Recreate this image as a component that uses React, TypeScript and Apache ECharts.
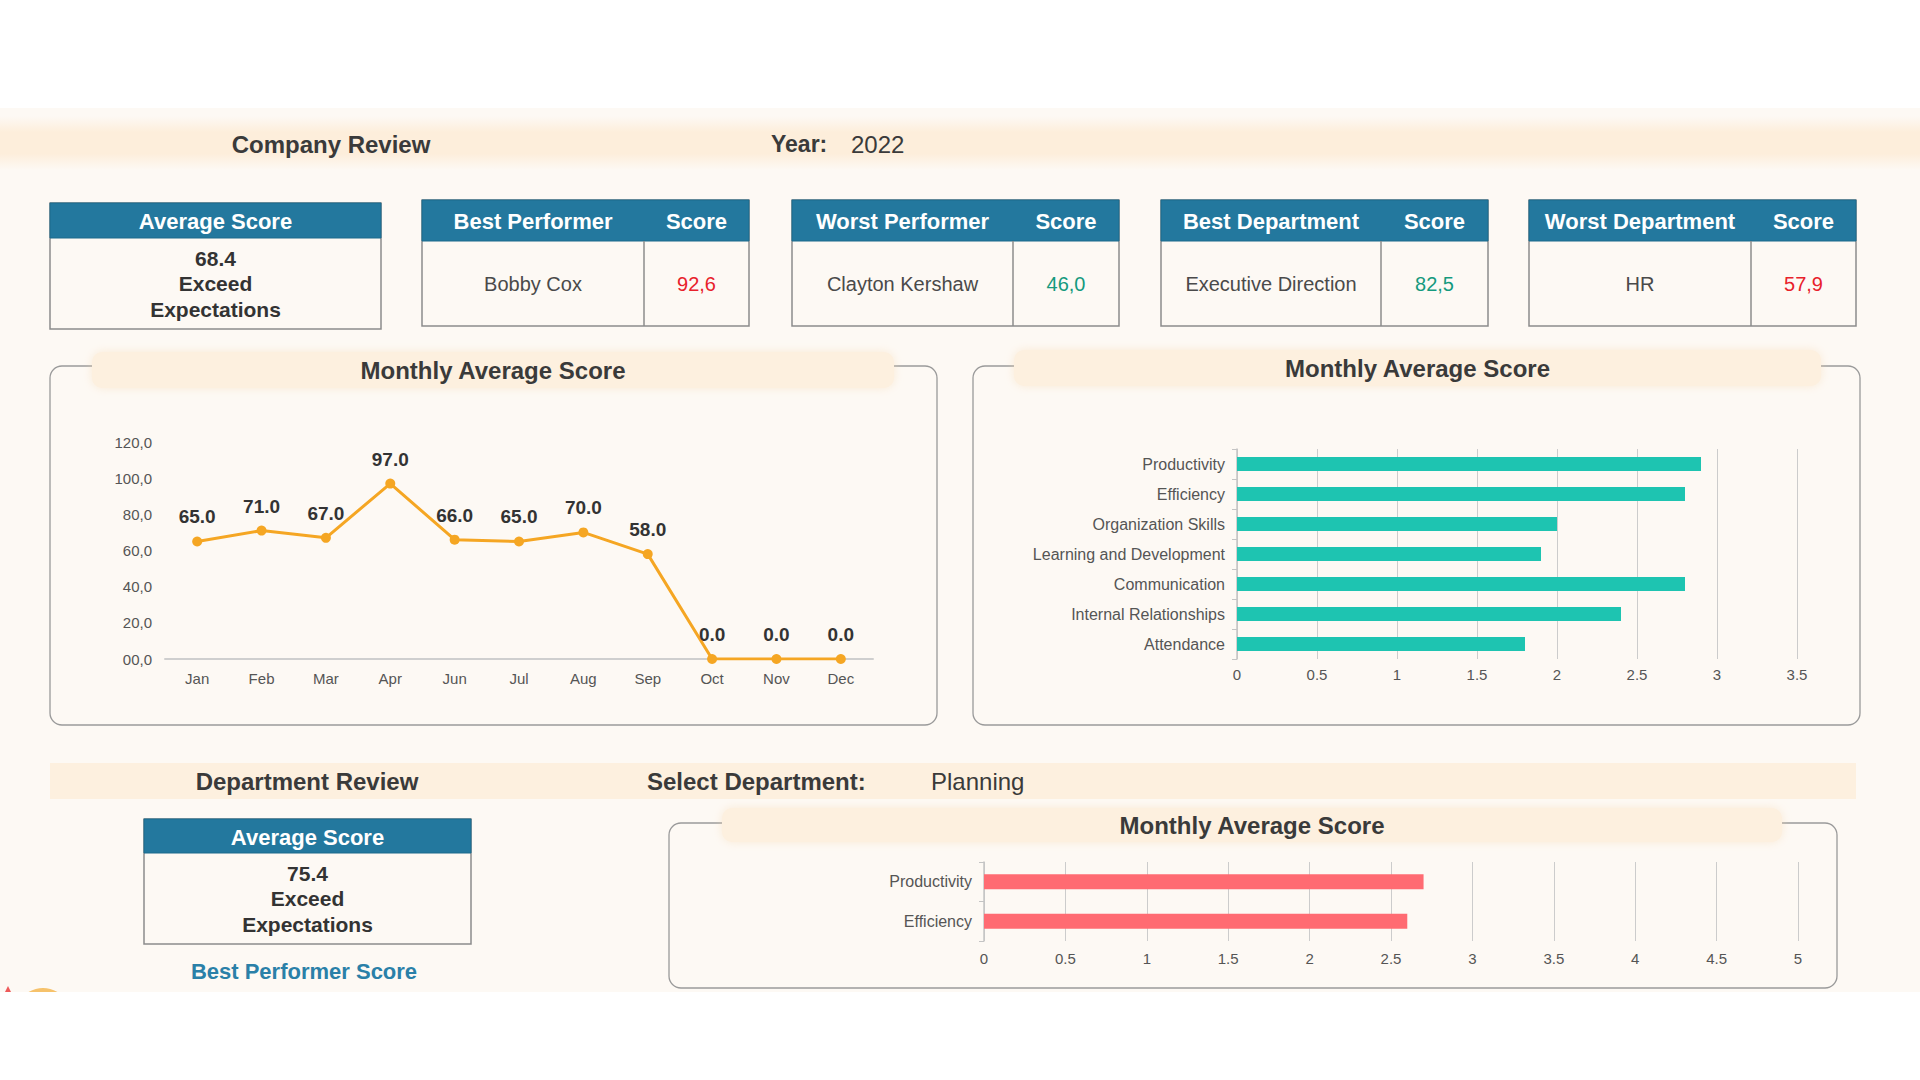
import React, { useEffect, useRef } from "react";
import * as echarts from "echarts";

// ---------- data ----------
const months = ["Jan", "Feb", "Mar", "Apr", "Jun", "Jul", "Aug", "Sep", "Oct", "Nov", "Dec"];
const monthlyScores = [65, 71, 67, 97, 66, 65, 70, 58, 0, 0, 0];

const skillCategories = [
  "Productivity",
  "Efficiency",
  "Organization Skills",
  "Learning and Development",
  "Communication",
  "Internal Relationships",
  "Attendance",
];
const skillScores = [2.9, 2.8, 2.0, 1.9, 2.8, 2.4, 1.8];

const deptCategories = ["Productivity", "Efficiency"];
const deptScores = [2.7, 2.6];

const companyYear = "2022";
const companyAverage = "68.4";
const companyRating = ["Exceed", "Expectations"];
const cardTitles = ["Best Performer", "Worst Performer", "Best Department", "Worst Department"];
const cardNames = ["Bobby Cox", "Clayton Kershaw", "Executive Direction", "HR"];
const cardScores = ["92,6", "46,0", "82,5", "57,9"];
const cardScoreGood = [false, true, true, false];

const selectedDepartment = "Planning";
const deptAverage = "75.4";
const deptRating = ["Exceed", "Expectations"];

// ---------- helpers ----------
const FONT = "'Liberation Sans', Arial, Helvetica, sans-serif";
const BG = "#fdf9f4";
const HEAD = "#23789e";
const BORDER = "#8c8c8c";

function txt(x: number, y: number, text: string, size: number, color: string, weight = "normal", align = "center") {
  return {
    type: "text",
    x,
    y,
    style: {
      text,
      fill: color,
      font: `${weight} ${size}px ${FONT}`,
      textAlign: align,
      textVerticalAlign: "middle",
      align,
      verticalAlign: "middle",
    },
  };
}

function avgCard(x: number, y: number, w: number, h: number, hh: number, value: string, rating: string[]) {
  const els: any[] = [];
  els.push({ type: "rect", shape: { x, y, width: w, height: h }, style: { fill: BG, stroke: BORDER, lineWidth: 1.5 } });
  els.push({ type: "rect", shape: { x, y, width: w, height: hh }, style: { fill: HEAD, stroke: "#1d6a8c", lineWidth: 1 } });
  els.push(txt(x + w / 2, y + hh / 2 + 1, "Average Score", 22, "#ffffff", "bold"));
  const bodyTop = y + hh;
  const lines = [value, ...rating];
  const step = 25.5;
  const mid = bodyTop + (h - hh) / 2;
  lines.forEach((l, i) => {
    els.push(txt(x + w / 2, mid + (i - 1) * step, l, 21, "#333333", "bold"));
  });
  return els;
}

function tableCard(x: number, y: number, w: number, h: number, hh: number, split: number, title: string, name: string, score: string, good: boolean) {
  const els: any[] = [];
  els.push({ type: "rect", shape: { x, y, width: w, height: h }, style: { fill: BG, stroke: BORDER, lineWidth: 1.5 } });
  els.push({ type: "rect", shape: { x, y, width: w, height: hh }, style: { fill: HEAD, stroke: "#1d6a8c", lineWidth: 1 } });
  els.push({ type: "line", shape: { x1: split, y1: y + hh, x2: split, y2: y + h }, style: { stroke: BORDER, lineWidth: 1.5 } });
  els.push(txt((x + split) / 2, y + hh / 2 + 1, title, 22, "#ffffff", "bold"));
  els.push(txt((split + x + w) / 2, y + hh / 2 + 1, "Score", 22, "#ffffff", "bold"));
  const my = y + hh + (h - hh) / 2;
  els.push(txt((x + split) / 2, my, name, 20, "#4a4a4a"));
  els.push(txt((split + x + w) / 2, my, score, 20, good ? "#159a7e" : "#e8212b"));
  return els;
}

function panel(x: number, y: number, w: number, h: number, bx: number, by: number, bw: number, bh: number, title: string) {
  return [
    { type: "rect", shape: { x, y, width: w, height: h, r: 12 }, style: { fill: BG, stroke: "#9a9a9a", lineWidth: 1.3 } },
    {
      type: "rect",
      shape: { x: bx, y: by, width: bw, height: bh, r: 10 },
      style: { fill: "#fdf0df", shadowBlur: 10, shadowColor: "rgba(245,215,175,0.45)" },
    },
    txt(bx + bw / 2, by + bh / 2, title, 24, "#3a3a3a", "bold"),
  ];
}

function buildGraphics() {
  const els: any[] = [];
  // page background
  els.push({ type: "rect", shape: { x: 0, y: 108, width: 1920, height: 884 }, style: { fill: BG } });
  // top band
  els.push({
    type: "rect",
    shape: { x: 0, y: 116, width: 1920, height: 54 },
    style: {
      fill: {
        type: "linear", x: 0, y: 0, x2: 0, y2: 1,
        colorStops: [
          { offset: 0, color: "rgba(253,238,220,0)" },
          { offset: 0.3, color: "#fdeedb" },
          { offset: 0.7, color: "#fdeedb" },
          { offset: 1, color: "rgba(253,238,220,0)" },
        ],
      },
    },
  });
  els.push(txt(331, 144, "Company Review", 24, "#3a3a3a", "bold"));
  els.push(txt(771, 144, "Year:", 23, "#3a3a3a", "bold", "left"));
  els.push(txt(851, 144, companyYear, 24, "#3a3a3a", "normal", "left"));

  // top cards
  els.push(...avgCard(50, 203, 331, 126, 35, companyAverage, companyRating));
  const cardX = [422, 792, 1161, 1529];
  const cardSplit = [644, 1013, 1381, 1751];
  cardTitles.forEach((t, i) => {
    els.push(...tableCard(cardX[i], 200, 327, 126, 41, cardSplit[i], t, cardNames[i], cardScores[i], cardScoreGood[i]));
  });

  // chart panels
  els.push(...panel(50, 366, 887, 359, 92, 352, 802, 36, "Monthly Average Score"));
  els.push(...panel(973, 366, 887, 359, 1014, 350, 807, 36, "Monthly Average Score"));

  // department band
  els.push({ type: "rect", shape: { x: 50, y: 763, width: 1806, height: 36 }, style: { fill: "#fdf0df" } });
  els.push(txt(307, 781, "Department Review", 24, "#3a3a3a", "bold"));
  els.push(txt(647, 781, "Select Department:", 24, "#3a3a3a", "bold", "left"));
  els.push(txt(931, 781, selectedDepartment, 24, "#3a3a3a", "normal", "left"));

  els.push(...avgCard(144, 819, 327, 125, 34, deptAverage, deptRating));
  els.push(txt(304, 971, "Best Performer Score", 22, "#2a80a8", "bold"));

  els.push(...panel(669, 823, 1168, 165, 722, 808, 1060, 34, "Monthly Average Score"));

  // decoration bottom-left (clipped by white area)
  els.push({ type: "circle", shape: { cx: 43, cy: 1016, r: 28 }, style: { fill: "#f6c26b" } });
  els.push({ type: "polygon", shape: { points: [[2, 998], [8, 986], [14, 998]] }, style: { fill: "#ee5a5a" } });
  els.push({ type: "rect", shape: { x: 0, y: 992, width: 1920, height: 88 }, style: { fill: "#ffffff" } });
  return els;
}

export default function App() {
  const ref = useRef<HTMLDivElement>(null);
  useEffect(() => {
    if (!ref.current) return;
    const chart = echarts.init(ref.current, null, { renderer: "svg" });
    const axisLabel = { color: "#555555", fontSize: 15, fontFamily: FONT };
    chart.setOption({
      animation: false,
      backgroundColor: "#ffffff",
      textStyle: { fontFamily: FONT },
      graphic: { elements: buildGraphics() },
      grid: [
        { left: 165, top: 442, width: 708, height: 217, containLabel: false },
        { left: 1237, top: 449, width: 560, height: 210, containLabel: false },
        { left: 984, top: 862, width: 814, height: 79, containLabel: false },
      ],
      xAxis: [
        {
          gridIndex: 0,
          type: "category",
          data: months,
          boundaryGap: true,
          axisLine: { lineStyle: { color: "#cfcfcf", width: 2 } },
          axisTick: { show: false },
          axisLabel: { ...axisLabel, margin: 12 },
        },
        {
          gridIndex: 1,
          type: "value",
          min: 0,
          max: 3.5,
          interval: 0.5,
          axisLine: { show: false },
          axisTick: { show: false },
          splitLine: { lineStyle: { color: "#cccccc", width: 1 } },
          axisLabel: { ...axisLabel, margin: 8 },
        },
        {
          gridIndex: 2,
          type: "value",
          min: 0,
          max: 5,
          interval: 0.5,
          axisLine: { show: false },
          axisTick: { show: false },
          splitLine: { lineStyle: { color: "#cccccc", width: 1 } },
          axisLabel: { ...axisLabel, margin: 10 },
        },
      ],
      yAxis: [
        {
          gridIndex: 0,
          type: "value",
          min: 0,
          max: 120,
          interval: 20,
          axisLine: { show: false },
          axisTick: { show: false },
          splitLine: { show: false },
          axisLabel: {
            ...axisLabel,
            margin: 13,
            formatter: (v: number) => (v === 0 ? "00,0" : v.toFixed(1).replace(".", ",")),
          },
        },
        {
          gridIndex: 1,
          type: "category",
          data: skillCategories,
          inverse: true,
          axisLine: { lineStyle: { color: "#c4c4c4", width: 1.5 } },
          axisTick: { show: true, length: 5, lineStyle: { color: "#c4c4c4" } },
          axisLabel: { ...axisLabel, fontSize: 16, margin: 12 },
        },
        {
          gridIndex: 2,
          type: "category",
          data: deptCategories,
          inverse: true,
          axisLine: { lineStyle: { color: "#c4c4c4", width: 1.5 } },
          axisTick: { show: true, length: 5, lineStyle: { color: "#c4c4c4" } },
          axisLabel: { ...axisLabel, fontSize: 16, margin: 12 },
        },
      ],
      series: [
        {
          type: "line",
          xAxisIndex: 0,
          yAxisIndex: 0,
          data: monthlyScores,
          color: "#f5a623",
          lineStyle: { width: 3, color: "#f5a623" },
          symbol: "circle",
          symbolSize: 10,
          itemStyle: { color: "#f5a623" },
          label: {
            show: true,
            position: "top",
            distance: 10,
            formatter: (p: any) => Number(p.value).toFixed(1),
            fontSize: 19,
            fontWeight: "bold",
            color: "#333333",
            fontFamily: FONT,
          },
        },
        {
          type: "bar",
          xAxisIndex: 1,
          yAxisIndex: 1,
          data: skillScores,
          barWidth: 14,
          itemStyle: { color: "#1ec4b1" },
        },
        {
          type: "bar",
          xAxisIndex: 2,
          yAxisIndex: 2,
          data: deptScores,
          barWidth: 15,
          itemStyle: { color: "#ff6b72" },
        },
      ],
    });
    return () => chart.dispose();
  }, []);
  return <div ref={ref} style={{ position: "absolute", left: 0, top: 0, width: 1920, height: 1080 }} />;
}
